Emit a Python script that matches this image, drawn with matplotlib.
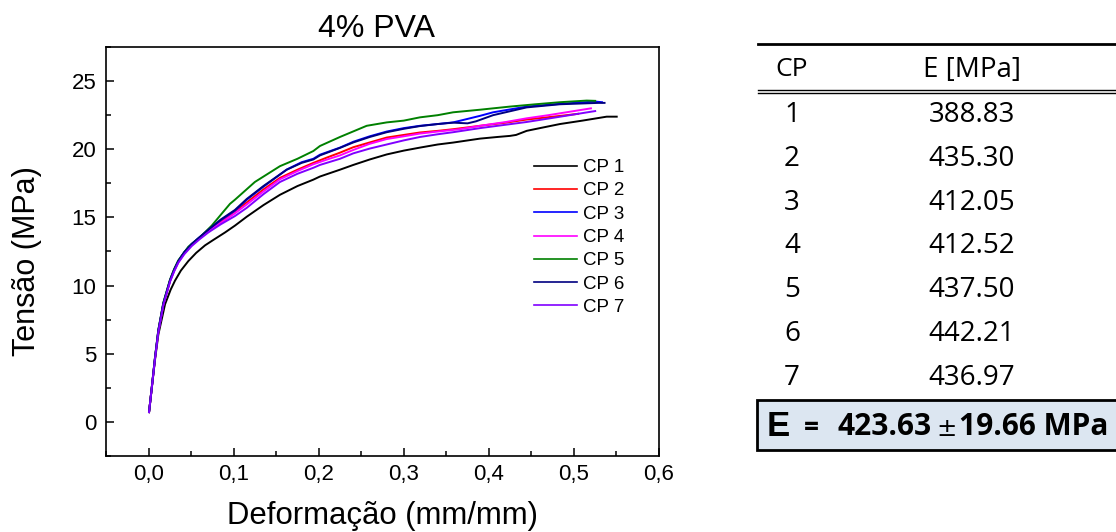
import matplotlib
matplotlib.use("Agg")
import matplotlib.pyplot as plt
from matplotlib.lines import Line2D
from matplotlib.patches import Rectangle
from matplotlib.ticker import MultipleLocator, FuncFormatter

# ---------------- data ----------------
cp1_x = [0.0006, 0.0037, 0.0076, 0.0115, 0.0194, 0.026, 0.0311, 0.038, 0.0468, 0.056, 0.0664, 0.0762, 0.090,
         0.1016, 0.1154, 0.135, 0.1545, 0.175, 0.1937, 0.2015, 0.225, 0.2407, 0.26, 0.28, 0.30, 0.319,
         0.34, 0.358, 0.3896, 0.41, 0.4249, 0.432, 0.4445, 0.46, 0.4836, 0.51, 0.5385, 0.5503]
cp1_y = [0.72, 2.4, 4.55, 6.4, 8.63, 9.7, 10.36, 11.1, 11.8, 12.4, 12.95, 13.35, 13.9,
         14.4, 15.05, 15.9, 16.66, 17.3, 17.77, 18.0, 18.5, 18.85, 19.25, 19.62, 19.9, 20.12,
         20.35, 20.49, 20.78, 20.9, 20.98, 21.05, 21.35, 21.55, 21.85, 22.1, 22.39, 22.39]

cp2_x = [0.0006, 0.0037, 0.0076, 0.0115, 0.0174, 0.0253, 0.030, 0.035, 0.042, 0.0507, 0.060, 0.0703, 0.085,
         0.1016, 0.1154, 0.135, 0.1545, 0.175, 0.1937, 0.21, 0.225, 0.2407, 0.26, 0.28, 0.30, 0.319,
         0.34, 0.358, 0.3896, 0.42, 0.4445, 0.47, 0.4914, 0.505]
cp2_y = [0.72, 2.45, 4.67, 6.65, 8.63, 10.36, 11.1, 11.75, 12.4, 13.0, 13.5, 14.0, 14.7,
         15.45, 16.1, 17.05, 17.9, 18.5, 19.0, 19.4, 19.75, 20.15, 20.5, 20.86, 21.05, 21.23,
         21.35, 21.47, 21.72, 21.95, 22.18, 22.35, 22.5, 22.6]

cp3_x = [0.0006, 0.0037, 0.0076, 0.0115, 0.0174, 0.0253, 0.030, 0.035, 0.042, 0.0507, 0.060, 0.0703, 0.085,
         0.1016, 0.1154, 0.135, 0.1624, 0.18, 0.1937, 0.2015, 0.225, 0.2407, 0.26, 0.28, 0.30, 0.319,
         0.34, 0.358, 0.37, 0.3896, 0.405, 0.4445, 0.4836, 0.5247, 0.533]
cp3_y = [0.72, 2.45, 4.7, 6.7, 8.7, 10.4, 11.15, 11.8, 12.45, 13.05, 13.55, 14.05, 14.8,
         15.5, 16.3, 17.25, 18.51, 19.05, 19.3, 19.6, 20.12, 20.55, 20.95, 21.3, 21.55, 21.72,
         21.85, 21.97, 22.15, 22.45, 22.71, 23.13, 23.33, 23.5, 23.45]

cp4_x = [0.0006, 0.0037, 0.0076, 0.0115, 0.0174, 0.0253, 0.030, 0.035, 0.042, 0.0507, 0.060, 0.0703, 0.085,
         0.1016, 0.1154, 0.135, 0.1545, 0.175, 0.1937, 0.21, 0.225, 0.2407, 0.26, 0.28, 0.30, 0.319,
         0.34, 0.366, 0.3896, 0.42, 0.4445, 0.47, 0.49, 0.515, 0.52]
cp4_y = [0.72, 2.45, 4.65, 6.6, 8.6, 10.3, 11.05, 11.7, 12.35, 12.95, 13.45, 13.95, 14.6,
         15.3, 15.95, 16.9, 17.8, 18.4, 18.9, 19.25, 19.55, 19.95, 20.4, 20.75, 20.95, 21.15,
         21.3, 21.47, 21.72, 22.0, 22.27, 22.5, 22.7, 22.95, 23.0]

cp5_x = [0.0006, 0.0037, 0.0076, 0.0115, 0.0174, 0.0253, 0.030, 0.035, 0.0468, 0.0605, 0.0743, 0.085, 0.0958,
         0.1016, 0.125, 0.1545, 0.175, 0.1937, 0.2015, 0.225, 0.2564, 0.28, 0.30, 0.319, 0.34, 0.358,
         0.3896, 0.4249, 0.455, 0.4836, 0.515, 0.525]
cp5_y = [0.72, 2.5, 4.75, 6.75, 8.75, 10.45, 11.2, 11.85, 12.85, 13.55, 14.4, 15.2, 16.0,
         16.3, 17.6, 18.76, 19.3, 19.87, 20.24, 20.9, 21.72, 21.97, 22.1, 22.34, 22.5, 22.71,
         22.9, 23.13, 23.3, 23.45, 23.57, 23.55]

cp6_x = [0.0006, 0.0037, 0.0076, 0.0115, 0.0174, 0.0253, 0.030, 0.035, 0.042, 0.0507, 0.060, 0.0703, 0.085,
         0.1016, 0.1154, 0.135, 0.1624, 0.18, 0.1937, 0.2015, 0.225, 0.2407, 0.26, 0.28, 0.30, 0.319,
         0.34, 0.358, 0.375, 0.385, 0.405, 0.4445, 0.4836, 0.5286, 0.536]
cp6_y = [0.72, 2.45, 4.7, 6.7, 8.7, 10.4, 11.15, 11.8, 12.45, 13.05, 13.55, 14.1, 14.85,
         15.55, 16.35, 17.3, 18.5, 19.0, 19.25, 19.55, 20.1, 20.5, 20.9, 21.25, 21.5, 21.7,
         21.85, 21.95, 21.9, 22.05, 22.5, 23.07, 23.3, 23.4, 23.4]

cp7_x = [0.0006, 0.0037, 0.0076, 0.0115, 0.0174, 0.0253, 0.030, 0.035, 0.042, 0.0507, 0.060, 0.0703, 0.085,
         0.1016, 0.1154, 0.135, 0.1545, 0.175, 0.1937, 0.2015, 0.225, 0.2407, 0.26, 0.28, 0.30, 0.319,
         0.34, 0.358, 0.3896, 0.42, 0.4445, 0.48, 0.5208, 0.525]
cp7_y = [0.72, 2.45, 4.65, 6.6, 8.58, 10.3, 11.03, 11.68, 12.3, 12.9, 13.4, 13.9, 14.5,
         15.1, 15.7, 16.7, 17.6, 18.2, 18.64, 18.85, 19.3, 19.7, 20.05, 20.35, 20.65, 20.9,
         21.1, 21.25, 21.55, 21.8, 22.0, 22.35, 22.76, 22.8]

series_x = [cp1_x, cp2_x, cp3_x, cp4_x, cp5_x, cp6_x, cp7_x]
series_y = [cp1_y, cp2_y, cp3_y, cp4_y, cp5_y, cp6_y, cp7_y]
series_labels = ["CP 1", "CP 2", "CP 3", "CP 4", "CP 5", "CP 6", "CP 7"]
series_colors = ["#000000", "#ff0000", "#0000ff", "#ff00ff", "#008000", "#000080", "#8000ff"]

x_ticks = [0.0, 0.1, 0.2, 0.3, 0.4, 0.5, 0.6]
y_ticks = [0, 5, 10, 15, 20, 25]

table_cp = ["1", "2", "3", "4", "5", "6", "7"]
table_e = ["388.83", "435.30", "412.05", "412.52", "437.50", "442.21", "436.97"]
e_mean = "423.63"
e_std = "19.66"

# ---------------- figure ----------------
W, H = 1116, 532
fig = plt.figure(figsize=(W / 100, H / 100), dpi=100)
plt.rcParams['font.family'] = ['Liberation Sans', 'DejaVu Sans']

def px(x, y):
    return x / W, 1 - y / H

ax = fig.add_axes([106 / W, 1 - 456 / H, 553 / W, 409 / H])
for xs, ys, lab, col in zip(series_x, series_y, series_labels, series_colors):
    ax.plot(xs, ys, color=col, lw=1.4, label=lab)

ax.set_xlim(-0.05, 0.6)
ax.set_ylim(-2.5, 27.5)
ax.set_xticks(x_ticks)
ax.set_yticks(y_ticks)
ax.xaxis.set_minor_locator(MultipleLocator(0.05))
ax.yaxis.set_minor_locator(MultipleLocator(2.5))
ax.xaxis.set_major_formatter(FuncFormatter(lambda v, p: f"{v:.1f}".replace(".", ",")))
ax.tick_params(which='both', direction='in', top=False, right=False, labelsize=16, width=1.1)
ax.tick_params(which='major', length=6)
ax.tick_params(which='minor', length=3.5)
ax.tick_params(axis='x', pad=6)
ax.tick_params(axis='y', pad=7)
for s in ax.spines.values():
    s.set_linewidth(1.2)

fig.text(*px(376.5, 37), "4% PVA", ha='center', va='baseline', fontsize=23)
fig.text(*px(382.5, 524), "Deformação (mm/mm)", ha='center', va='baseline', fontsize=22.4)
fig.text(*px(27, 261), "Tensão (MPa)", ha='center', va='center', rotation=90, fontsize=22)

leg = ax.legend(loc='upper left', bbox_to_anchor=((534 - 106) / 553, (456 - 159) / 409),
                frameon=False, fontsize=13.5, handlelength=2.3, handletextpad=0.33,
                labelspacing=0.33, borderpad=0, borderaxespad=0)
for h in leg.get_lines():
    h.set_linewidth(1.2)

# ---------------- table ----------------
tfont = ['Open Sans', 'DejaVu Sans']
x0, x1 = 758, 1116
def hline(y, lw):
    fig.add_artist(Line2D([x0 / W, x1 / W], [1 - y / H, 1 - y / H], color='black', lw=lw))

hline(44, 2.0)
hline(89.5, 1.0)
hline(92.8, 1.0)

fig.text(*px(792, 70), "CP", ha='center', va='center', fontsize=19, family=tfont)
fig.text(*px(972, 70), "E [MPa]", ha='center', va='center', fontsize=20, family=tfont)
row_y0, row_dy = 115, 43.8
for i, (c, e) in enumerate(zip(table_cp, table_e)):
    yy = row_y0 + i * row_dy
    fig.text(*px(792, yy), c, ha='center', va='center', fontsize=20, family=tfont)
    fig.text(*px(972, yy), e, ha='center', va='center', fontsize=20, family=tfont)

box = Rectangle((757 / W, 1 - 450 / H), (1125 - 757) / W, 50 / H, transform=fig.transFigure,
                facecolor='#dce6f1', edgecolor='black', lw=2.0, clip_on=False)
fig.add_artist(box)
fig.text(*px(767, 427), "E", ha='left', va='center', fontsize=25, fontweight='bold',
         family=['Liberation Sans', 'DejaVu Sans'])
fig.text(*px(811, 428), "=", ha='center', va='center', fontsize=19, fontweight='bold', family=tfont)
fig.text(*px(838, 427), e_mean, ha='left', va='center', fontsize=21.5, fontweight='bold', family=tfont)
fig.text(*px(946.5, 429), "±", ha='center', va='center', fontsize=17.5, family=['DejaVu Sans'])
fig.text(*px(959, 427), f"{e_std} MPa", ha='left', va='center', fontsize=21.5, fontweight='bold', family=tfont)

fig.savefig("out.png", dpi=100)
